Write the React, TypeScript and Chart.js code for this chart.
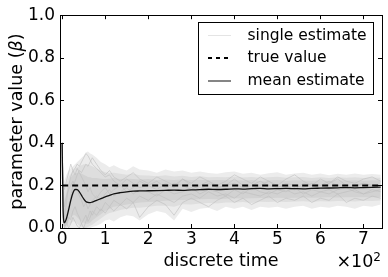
import React, { useEffect, useRef } from "react";
import { Chart, registerables } from "chart.js";

Chart.register(...registerables);

// time axis samples (discrete time)
const TIME = [0, 2, 5, 10, 15, 20, 25, 30, 35, 40, 45, 50, 55, 60, 65, 70, 80, 90, 100, 110, 120, 135, 150, 165, 180, 200, 220, 240, 260, 280, 300, 320, 340, 360, 380, 400, 420, 440, 460, 480, 500, 520, 540, 560, 580, 600, 620, 640, 660, 680, 700, 720, 740];

const MEAN_ESTIMATE = [0.40, 0.10, 0.025, 0.045, 0.085, 0.13, 0.165, 0.181, 0.18, 0.17, 0.153, 0.137, 0.125, 0.12, 0.119, 0.122, 0.13, 0.138, 0.146, 0.153, 0.16, 0.166, 0.17, 0.173, 0.174, 0.175, 0.176, 0.177, 0.178, 0.177, 0.179, 0.18, 0.182, 0.181, 0.182, 0.184, 0.183, 0.185, 0.186, 0.184, 0.185, 0.186, 0.185, 0.184, 0.186, 0.187, 0.188, 0.189, 0.19, 0.189, 0.19, 0.191, 0.192];

const TRUE_VALUE = 0.2;
const TRUE_SPAN = [0, 740];

// envelope of the cloud of single estimates (outer, faint)
const OUTER_UPPER = [0.40, 0.30, 0.22, 0.25, 0.27, 0.28, 0.29, 0.30, 0.31, 0.32, 0.33, 0.34, 0.355, 0.36, 0.35, 0.345, 0.33, 0.31, 0.30, 0.285, 0.295, 0.28, 0.27, 0.29, 0.275, 0.27, 0.26, 0.275, 0.265, 0.27, 0.26, 0.265, 0.258, 0.255, 0.262, 0.266, 0.255, 0.26, 0.25, 0.257, 0.262, 0.25, 0.256, 0.26, 0.25, 0.256, 0.248, 0.255, 0.25, 0.256, 0.25, 0.254, 0.25];
const OUTER_LOWER = [0.38, 0.02, 0.0, 0.0, 0.0, 0.0, 0.0, 0.0, 0.0, 0.0, 0.0, 0.0, 0.0, 0.0, 0.0, 0.005, 0.01, 0.02, 0.035, 0.04, 0.03, 0.05, 0.06, 0.055, 0.035, 0.065, 0.08, 0.07, 0.035, 0.09, 0.075, 0.09, 0.095, 0.08, 0.1, 0.09, 0.1, 0.085, 0.1, 0.095, 0.1, 0.09, 0.1, 0.105, 0.09, 0.1, 0.095, 0.105, 0.1, 0.09, 0.105, 0.1, 0.11];

// intermediate density
const MID_UPPER = [0.40, 0.25, 0.17, 0.21, 0.24, 0.255, 0.27, 0.28, 0.285, 0.29, 0.295, 0.3, 0.3, 0.3, 0.295, 0.29, 0.28, 0.27, 0.262, 0.258, 0.26, 0.255, 0.25, 0.255, 0.248, 0.247, 0.243, 0.248, 0.242, 0.245, 0.24, 0.243, 0.238, 0.24, 0.239, 0.242, 0.237, 0.24, 0.236, 0.239, 0.241, 0.236, 0.238, 0.24, 0.235, 0.238, 0.235, 0.238, 0.236, 0.239, 0.235, 0.237, 0.236];
const MID_LOWER = [0.38, 0.03, 0.0, 0.0, 0.01, 0.02, 0.03, 0.03, 0.02, 0.01, 0.005, 0.0, 0.0, 0.005, 0.01, 0.015, 0.03, 0.045, 0.06, 0.07, 0.075, 0.085, 0.09, 0.095, 0.095, 0.1, 0.105, 0.105, 0.1, 0.112, 0.11, 0.115, 0.118, 0.115, 0.12, 0.12, 0.122, 0.118, 0.123, 0.122, 0.124, 0.122, 0.125, 0.126, 0.123, 0.126, 0.125, 0.127, 0.126, 0.125, 0.128, 0.127, 0.129];

// dense core of the cloud
const CORE_UPPER = [0.40, 0.20, 0.12, 0.17, 0.21, 0.235, 0.25, 0.255, 0.26, 0.26, 0.255, 0.25, 0.245, 0.24, 0.238, 0.235, 0.235, 0.232, 0.23, 0.232, 0.235, 0.23, 0.232, 0.23, 0.228, 0.23, 0.226, 0.228, 0.225, 0.228, 0.225, 0.227, 0.224, 0.226, 0.224, 0.226, 0.223, 0.225, 0.222, 0.224, 0.225, 0.222, 0.224, 0.223, 0.222, 0.224, 0.222, 0.224, 0.223, 0.224, 0.222, 0.224, 0.223];
const CORE_LOWER = [0.38, 0.04, 0.005, 0.01, 0.03, 0.05, 0.06, 0.06, 0.05, 0.04, 0.03, 0.025, 0.02, 0.02, 0.025, 0.035, 0.05, 0.065, 0.08, 0.09, 0.1, 0.105, 0.11, 0.115, 0.12, 0.122, 0.125, 0.128, 0.13, 0.132, 0.133, 0.135, 0.136, 0.135, 0.138, 0.14, 0.139, 0.14, 0.141, 0.14, 0.142, 0.141, 0.142, 0.143, 0.142, 0.143, 0.144, 0.143, 0.144, 0.145, 0.144, 0.145, 0.146];

// a few individual single-estimate traces
const SINGLE_A = [0.40, 0.15, 0.05, 0.12, 0.2, 0.24, 0.27, 0.28, 0.3, 0.29, 0.31, 0.33, 0.35, 0.34, 0.32, 0.3, 0.28, 0.26, 0.24, 0.25, 0.22, 0.2, 0.23, 0.21, 0.19, 0.2, 0.22, 0.19, 0.21, 0.2, 0.18, 0.2, 0.22, 0.19, 0.2, 0.21, 0.19, 0.2, 0.22, 0.2, 0.19, 0.21, 0.2, 0.19, 0.21, 0.2, 0.22, 0.2, 0.19, 0.2, 0.21, 0.2, 0.2];
const SINGLE_B = [0.40, 0.02, 0.0, 0.02, 0.05, 0.04, 0.08, 0.1, 0.07, 0.05, 0.02, 0.0, 0.03, 0.05, 0.08, 0.06, 0.1, 0.08, 0.12, 0.1, 0.13, 0.11, 0.14, 0.12, 0.15, 0.13, 0.16, 0.14, 0.12, 0.15, 0.16, 0.14, 0.17, 0.15, 0.16, 0.14, 0.17, 0.16, 0.15, 0.17, 0.16, 0.18, 0.16, 0.17, 0.15, 0.17, 0.18, 0.16, 0.17, 0.18, 0.16, 0.17, 0.18];
const SINGLE_C = [0.40, 0.25, 0.18, 0.22, 0.26, 0.3, 0.27, 0.25, 0.28, 0.26, 0.24, 0.22, 0.2, 0.17, 0.19, 0.16, 0.14, 0.17, 0.19, 0.16, 0.18, 0.2, 0.17, 0.19, 0.22, 0.2, 0.18, 0.21, 0.19, 0.23, 0.2, 0.18, 0.21, 0.19, 0.2, 0.23, 0.2, 0.18, 0.2, 0.22, 0.19, 0.2, 0.18, 0.21, 0.2, 0.19, 0.21, 0.23, 0.2, 0.19, 0.21, 0.2, 0.19];
const SINGLE_D = [0.40, 0.08, 0.02, 0.06, 0.1, 0.15, 0.2, 0.22, 0.25, 0.27, 0.26, 0.28, 0.3, 0.29, 0.31, 0.33, 0.3, 0.27, 0.25, 0.27, 0.24, 0.22, 0.24, 0.26, 0.23, 0.21, 0.24, 0.22, 0.2, 0.23, 0.21, 0.24, 0.22, 0.2, 0.22, 0.25, 0.23, 0.21, 0.24, 0.22, 0.2, 0.23, 0.25, 0.22, 0.2, 0.23, 0.21, 0.24, 0.22, 0.21, 0.23, 0.24, 0.22];
const SINGLE_E = [0.40, 0.05, 0.01, 0.03, 0.0, 0.02, 0.05, 0.03, 0.01, 0.0, 0.02, 0.04, 0.06, 0.03, 0.05, 0.08, 0.06, 0.09, 0.07, 0.1, 0.08, 0.11, 0.09, 0.12, 0.05, 0.1, 0.13, 0.11, 0.06, 0.12, 0.14, 0.12, 0.1, 0.13, 0.15, 0.12, 0.14, 0.11, 0.13, 0.15, 0.12, 0.14, 0.13, 0.15, 0.12, 0.14, 0.13, 0.16, 0.12, 0.14, 0.13, 0.15, 0.14];
const SINGLE_F = [0.40, 0.18, 0.1, 0.15, 0.18, 0.2, 0.22, 0.2, 0.18, 0.15, 0.13, 0.1, 0.12, 0.09, 0.11, 0.13, 0.15, 0.13, 0.16, 0.18, 0.15, 0.17, 0.19, 0.16, 0.18, 0.17, 0.15, 0.18, 0.16, 0.17, 0.19, 0.16, 0.18, 0.17, 0.15, 0.18, 0.16, 0.19, 0.17, 0.16, 0.18, 0.17, 0.19, 0.16, 0.18, 0.17, 0.16, 0.18, 0.19, 0.17, 0.16, 0.18, 0.17];

const X_TICKS = [0, 100, 200, 300, 400, 500, 600, 700];
const Y_TICKS = [0, 0.2, 0.4, 0.6, 0.8, 1.0];

const LEGEND_LABELS = ["single estimate", "true value", "mean estimate"];
const X_TITLE = "discrete time";
const Y_TITLE_PARTS = ["parameter value (", "β", ")"];

const FONT = "'DejaVu Sans', sans-serif";

const pts = (ys: number[]) => TIME.map((t, i) => ({ x: t, y: ys[i] }));

const band = (label: string, ys: number[], color: string | null, target: number | null) => ({
  label,
  data: pts(ys),
  borderColor: "rgba(0,0,0,0)",
  borderWidth: 0,
  pointRadius: 0,
  backgroundColor: color || "rgba(0,0,0,0)",
  fill: target === null ? false : { target },
});

const framePlugin = {
  id: "frameAndExtras",
  afterDatasetsDraw(chart: any) {
    const { ctx, chartArea } = chart;
    const { left, right, top, bottom } = chartArea;
    const xs = chart.scales.x;
    const ys = chart.scales.y;
    ctx.save();
    ctx.strokeStyle = "#000";
    ctx.lineWidth = 1;
    ctx.beginPath();
    X_TICKS.forEach((v) => {
      const px = Math.round(xs.getPixelForValue(v)) + 0.5;
      ctx.moveTo(px, bottom);
      ctx.lineTo(px, bottom - 4);
      ctx.moveTo(px, top);
      ctx.lineTo(px, top + 4);
    });
    Y_TICKS.forEach((v) => {
      const py = Math.round(ys.getPixelForValue(v)) + 0.5;
      ctx.moveTo(left, py);
      ctx.lineTo(left + 4, py);
      ctx.moveTo(right, py);
      ctx.lineTo(right - 4, py);
    });
    ctx.stroke();
    ctx.strokeRect(Math.round(left) + 0.5, Math.round(top) + 0.5, Math.round(right - left), Math.round(bottom - top));
    ctx.restore();
  },
  afterDraw(chart: any) {
    const { ctx, chartArea } = chart;
    ctx.save();
    // legend
    const bx = 198.5, by = 22.5, bw = 175, bh = 72;
    ctx.fillStyle = "#fff";
    ctx.fillRect(bx, by, bw, bh);
    ctx.strokeStyle = "#000";
    ctx.lineWidth = 1;
    ctx.strokeRect(bx, by, bw, bh);
    const rows = [35.5, 58, 81];
    const sx0 = 208, sx1 = 231;
    ctx.strokeStyle = "#e4e4e4";
    ctx.lineWidth = 1;
    ctx.beginPath(); ctx.moveTo(sx0, rows[0]); ctx.lineTo(sx1, rows[0]); ctx.stroke();
    ctx.strokeStyle = "#000";
    ctx.lineWidth = 2;
    ctx.setLineDash([4, 4]);
    ctx.beginPath(); ctx.moveTo(sx0, rows[1]); ctx.lineTo(sx1, rows[1]); ctx.stroke();
    ctx.setLineDash([]);
    ctx.strokeStyle = "#333";
    ctx.lineWidth = 1.2;
    ctx.beginPath(); ctx.moveTo(sx0, rows[2]); ctx.lineTo(sx1, rows[2]); ctx.stroke();
    ctx.fillStyle = "#000";
    ctx.font = `15.5px ${FONT}`;
    ctx.textAlign = "left";
    ctx.textBaseline = "middle";
    LEGEND_LABELS.forEach((l, i) => ctx.fillText(l, 247.5, rows[i]));

    // y title with italic beta
    ctx.save();
    ctx.translate(17, (chartArea.top + chartArea.bottom) / 2);
    ctx.rotate(-Math.PI / 2);
    const normal = `17.5px ${FONT}`;
    const italic = `italic 17.5px ${FONT}`;
    ctx.font = normal;
    const w0 = ctx.measureText(Y_TITLE_PARTS[0]).width;
    const w2 = ctx.measureText(Y_TITLE_PARTS[2]).width;
    ctx.font = italic;
    const w1 = ctx.measureText(Y_TITLE_PARTS[1]).width;
    let x = -(w0 + w1 + w2) / 2;
    ctx.textBaseline = "middle";
    ctx.textAlign = "left";
    ctx.font = normal;
    ctx.fillText(Y_TITLE_PARTS[0], x, 0);
    x += w0;
    ctx.font = italic;
    ctx.fillText(Y_TITLE_PARTS[1], x, 0);
    x += w1;
    ctx.font = normal;
    ctx.fillText(Y_TITLE_PARTS[2], x, 0);
    ctx.restore();

    // x scale offset text ×10^2
    ctx.font = `12px ${FONT}`;
    ctx.textAlign = "right";
    ctx.textBaseline = "alphabetic";
    const supW = ctx.measureText("2").width;
    ctx.fillText("2", 381, 261);
    ctx.font = `17.5px ${FONT}`;
    ctx.fillText("×10", 381 - supW, 267);
    ctx.restore();
  },
};

export default function App() {
  const ref = useRef<HTMLCanvasElement>(null);
  useEffect(() => {
    document.body.style.margin = "0";
    const canvas = ref.current!;
    const singles = [SINGLE_A, SINGLE_B, SINGLE_C, SINGLE_D, SINGLE_E, SINGLE_F];
    const chart = new Chart(canvas, {
      type: "line",
      data: {
        datasets: [
          {
            label: "mean estimate",
            data: pts(MEAN_ESTIMATE),
            borderColor: "#111",
            borderWidth: 1.3,
            pointRadius: 0,
            cubicInterpolationMode: "monotone",
            fill: false,
          },
          {
            label: "true value",
            data: TRUE_SPAN.map((t) => ({ x: t, y: TRUE_VALUE })),
            borderColor: "#000",
            borderWidth: 2,
            borderDash: [6, 4],
            pointRadius: 0,
            fill: false,
          },
          ...singles.map((s) => ({
            label: "single estimate",
            data: pts(s),
            borderColor: "rgba(190,190,190,0.75)",
            borderWidth: 0.8,
            pointRadius: 0,
            fill: false,
          })),
          band("core upper", CORE_UPPER, "#d2d2d2", 9),
          band("core lower", CORE_LOWER, null, null),
          band("mid upper", MID_UPPER, "#dedede", 11),
          band("mid lower", MID_LOWER, null, null),
          band("outer upper", OUTER_UPPER, "#ececec", 13),
          band("outer lower", OUTER_LOWER, null, null),
        ] as any,
      },
      options: {
        responsive: false,
        animation: false,
        devicePixelRatio: 1,
        layout: { padding: { top: 15, right: 6, left: 0, bottom: 0 } },
        plugins: {
          legend: { display: false },
          tooltip: { enabled: false },
        },
        scales: {
          x: {
            type: "linear",
            min: -5,
            max: 743,
            afterFit: (s: any) => { s.height = 49; },
            afterBuildTicks: (s: any) => { s.ticks = X_TICKS.map((v) => ({ value: v })); },
            grid: { display: false, drawTicks: false },
            border: { display: false },
            ticks: {
              padding: 1,
              color: "#000",
              font: { family: FONT, size: 17 },
              callback: (v: any) => String(Number(v) / 100),
              maxRotation: 0,
            },
            title: {
              display: true,
              text: X_TITLE,
              color: "#000",
              font: { family: FONT, size: 17.5 },
              padding: { top: 0, bottom: 5 },
            },
          },
          y: {
            type: "linear",
            min: 0,
            max: 1,
            afterFit: (s: any) => { s.width = 60; },
            afterBuildTicks: (s: any) => { s.ticks = Y_TICKS.map((v) => ({ value: v })); },
            grid: { display: false, drawTicks: false },
            border: { display: false },
            ticks: {
              padding: 5,
              color: "#000",
              font: { family: FONT, size: 17 },
              callback: (v: any) => Number(v).toFixed(1),
            },
          },
        },
      } as any,
      plugins: [framePlugin],
    });
    return () => chart.destroy();
  }, []);
  return <canvas ref={ref} width={388} height={277} style={{ display: "block" }} />;
}
